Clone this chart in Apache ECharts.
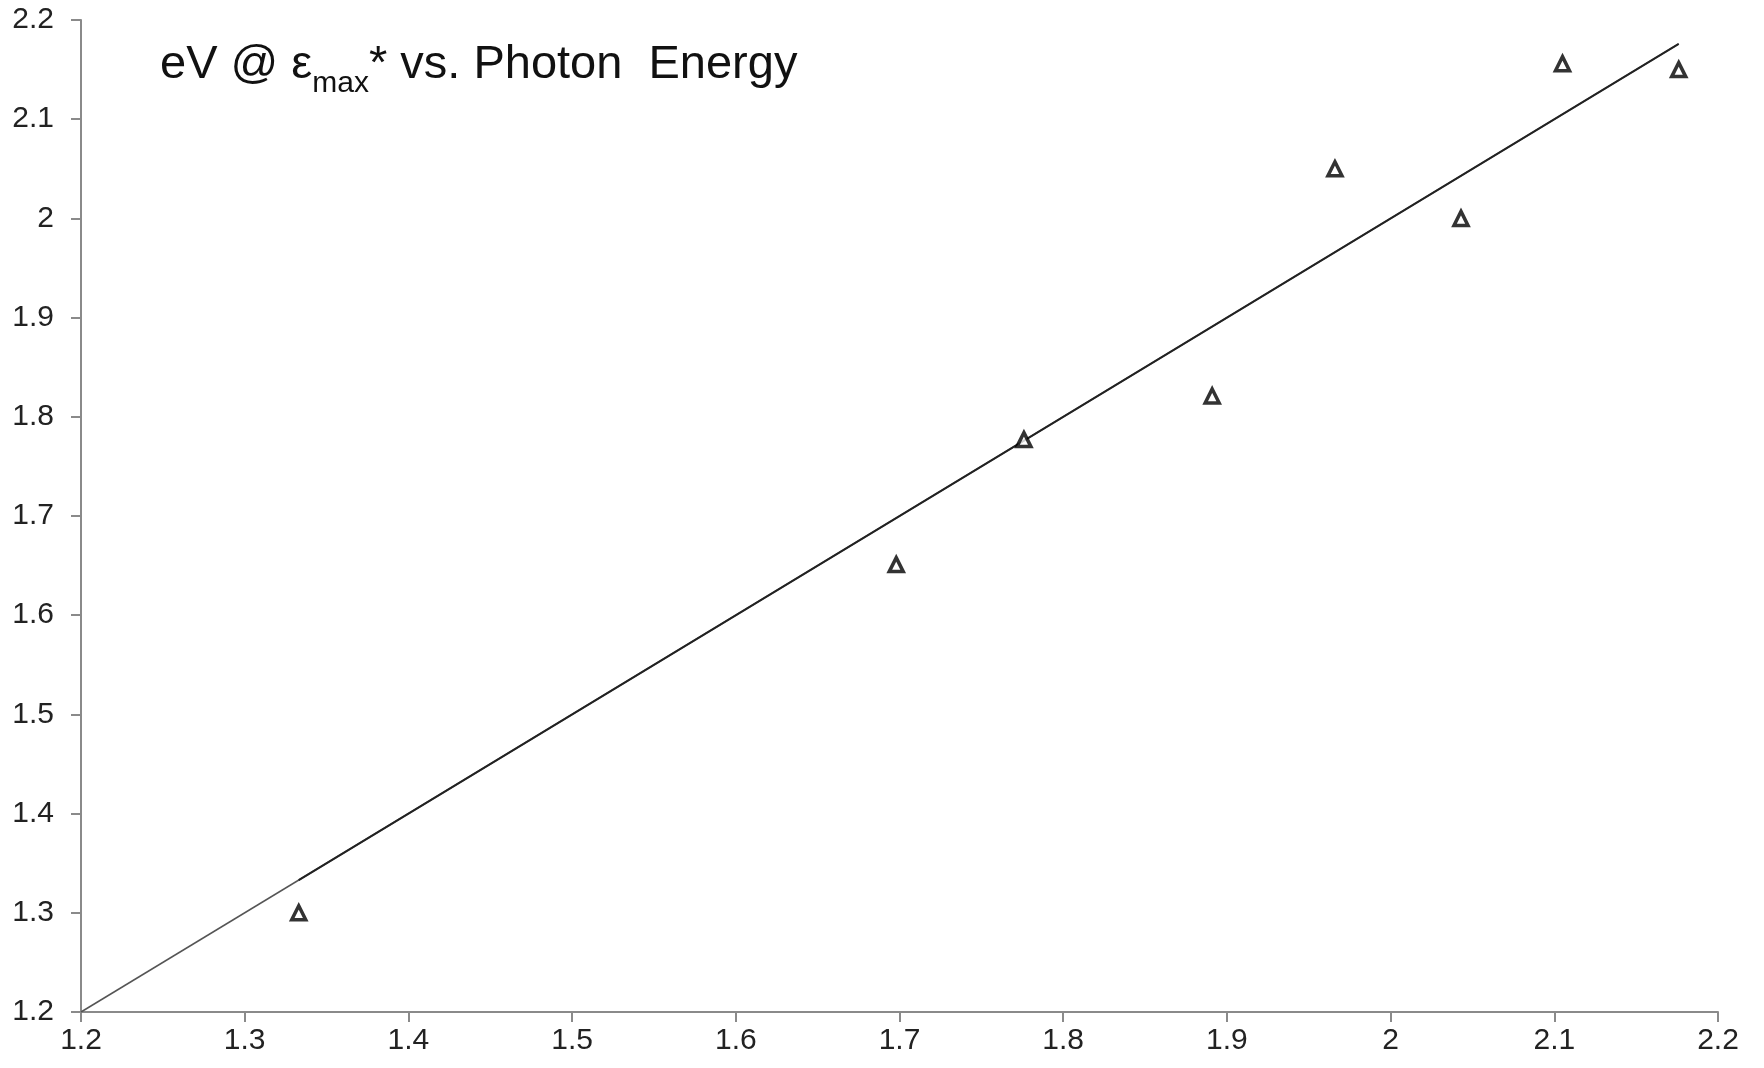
<!DOCTYPE html>
<html>
<head>
<meta charset="utf-8">
<script src="https://cdn.jsdelivr.net/npm/echarts@6/dist/echarts.min.js"></script>
<style>
  html, body { margin: 0; padding: 0; background: #fff; }
  #chart { width: 1764px; height: 1068px; }
</style>
</head>
<body>
<div id="chart"></div>
<script>
// photon energy (x) vs eV at max (y)
var photonEnergy = [1.333, 1.698, 1.776, 1.891, 1.966, 2.043, 2.105, 2.176];
var eVAtMax = [1.30, 1.651, 1.777, 1.821, 2.05, 2.0, 2.156, 2.15];
// reference line y = x
var fitX = [1.2, 1.333, 2.176];

var font = 'Liberation Sans, Arial, sans-serif';
var myChart = echarts.init(document.getElementById('chart'));

var option = {
    animation: false,
    backgroundColor: '#fff',
    title: {
        left: 155,
        top: 28,
        text: '{a|eV @ ε}{s|max}{a|* vs. Photon  Energy}',
        textStyle: {
            fontWeight: 'normal',
            rich: {
                a: { fontFamily: font, fontSize: 47, fontWeight: 'normal', color: '#111', lineHeight: 56, verticalAlign: 'bottom' },
                s: { fontFamily: font, fontSize: 30, fontWeight: 'normal', color: '#111', lineHeight: 56, verticalAlign: 'bottom', padding: [0, 0, -10, 0] }
            }
        }
    },
    grid: { left: 81, right: 46, top: 20, bottom: 56, containLabel: false },
    xAxis: {
        type: 'value', min: 1.2, max: 2.2, interval: 0.1,
        axisLine: { lineStyle: { color: '#8a8a8a', width: 2 } },
        axisTick: { length: 10, lineStyle: { color: '#8a8a8a', width: 2 } },
        axisLabel: { fontFamily: font, fontSize: 30, color: '#222', margin: 14,
            formatter: function (v) { return +v.toFixed(1) + ''; } },
        splitLine: { show: false }
    },
    yAxis: {
        type: 'value', min: 1.2, max: 2.2, interval: 0.1,
        axisLine: { show: true, lineStyle: { color: '#8a8a8a', width: 2 } },
        axisTick: { show: true, length: 10, lineStyle: { color: '#8a8a8a', width: 2 } },
        axisLabel: { fontFamily: font, fontSize: 30, color: '#222', margin: 27,
            formatter: function (v) { return +v.toFixed(1) + ''; } },
        splitLine: { show: false }
    },
    series: [
        {
            type: 'line',
            data: [[fitX[0], fitX[0]], [fitX[2], fitX[2]]],
            symbol: 'none',
            lineStyle: { color: '#555', width: 1.5 },
            z: 1
        },
        {
            type: 'line',
            data: [[fitX[1], fitX[1]], [fitX[2], fitX[2]]],
            symbol: 'none',
            lineStyle: { color: '#222', width: 2 },
            z: 2
        },
        {
            type: 'scatter',
            data: photonEnergy.map(function (x, i) { return [x, eVAtMax[i]]; }),
            symbol: 'triangle',
            symbolSize: 14,
            itemStyle: { color: '#fff', borderColor: '#000', borderWidth: 3.5 },
            z: 3
        }
    ]
};

myChart.setOption(option);
</script>
</body>
</html>
